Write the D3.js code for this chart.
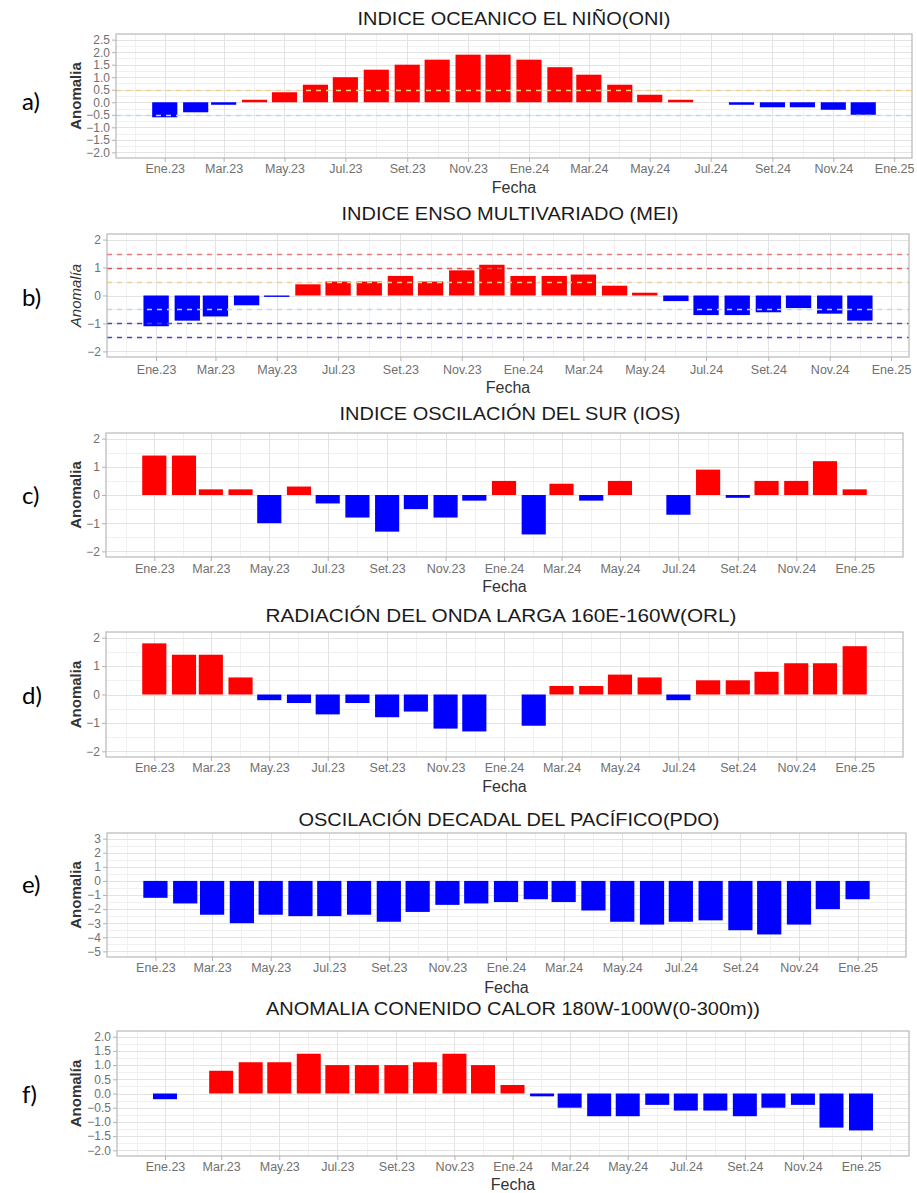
<!DOCTYPE html>
<html><head><meta charset="utf-8">
<script src="https://cdn.jsdelivr.net/npm/d3@7"></script>
<style>body{margin:0;background:#fff}svg{display:block}</style>
</head><body>
<svg id="chart" width="917" height="1193"></svg>
<script>
// ---------- data ----------
const months = ["2023-01-01","2023-02-01","2023-03-01","2023-04-01","2023-05-01","2023-06-01",
  "2023-07-01","2023-08-01","2023-09-01","2023-10-01","2023-11-01","2023-12-01",
  "2024-01-01","2024-02-01","2024-03-01","2024-04-01","2024-05-01","2024-06-01",
  "2024-07-01","2024-08-01","2024-09-01","2024-10-01","2024-11-01","2024-12-01","2025-01-01"];
const tickDates = ["2023-01-01","2023-03-01","2023-05-01","2023-07-01","2023-09-01","2023-11-01",
  "2024-01-01","2024-03-01","2024-05-01","2024-07-01","2024-09-01","2024-11-01","2025-01-01"];
const tickLabels = ["Ene.23","Mar.23","May.23","Jul.23","Set.23","Nov.23",
  "Ene.24","Mar.24","May.24","Jul.24","Set.24","Nov.24","Ene.25"];

const oni = [-0.6,-0.4,-0.1,0.1,0.4,0.7,1.0,1.3,1.5,1.7,1.9,1.9,1.7,1.4,1.1,0.7,0.3,0.1,0.0,-0.1,-0.2,-0.2,-0.3,-0.5];
const mei = [-1.1,-0.9,-0.75,-0.35,-0.05,0.4,0.5,0.5,0.7,0.5,0.9,1.1,0.7,0.7,0.75,0.35,0.1,-0.2,-0.7,-0.7,-0.6,-0.45,-0.65,-0.9];
const ios = [1.4,1.4,0.2,0.2,-1.0,0.3,-0.3,-0.8,-1.3,-0.5,-0.8,-0.2,0.5,-1.4,0.4,-0.2,0.5,0.0,-0.7,0.9,-0.1,0.5,0.5,1.2,0.2];
const orl = [1.8,1.4,1.4,0.6,-0.2,-0.3,-0.7,-0.3,-0.8,-0.6,-1.2,-1.3,0.0,-1.1,0.3,0.3,0.7,0.6,-0.2,0.5,0.5,0.8,1.1,1.1,1.7];
const pdo = [-1.2,-1.6,-2.4,-3.0,-2.4,-2.5,-2.5,-2.4,-2.9,-2.2,-1.7,-1.6,-1.5,-1.3,-1.5,-2.1,-2.9,-3.1,-2.9,-2.8,-3.5,-3.8,-3.1,-2.0,-1.3];
const ohc = [-0.2,0.0,0.8,1.1,1.1,1.4,1.0,1.0,1.0,1.1,1.4,1.0,0.3,-0.1,-0.5,-0.8,-0.8,-0.4,-0.6,-0.6,-0.8,-0.5,-0.4,-1.2,-1.3];

const oniThresholds = [0.5,-0.5];
const meiThresholds = [1.5,1.0,0.5,-0.5,-1.0,-1.5];

const ticksHalf = [-2.0,-1.5,-1.0,-0.5,0.0,0.5,1.0,1.5,2.0];
const ticksHalfA = [-2.0,-1.5,-1.0,-0.5,0.0,0.5,1.0,1.5,2.0,2.5];
const ticksUnit = [-2,-1,0,1,2];
const ticksPdo = [-5,-4,-3,-2,-1,0,1,2,3];

// ---------- layout ----------
const panels = [
  {letter:"a)", title:"INDICE OCEANICO EL NIÑO(ONI)", values:oni, n:24, ylab:"Anomalia", ylabStyle:"bold",
   l:116, r:912, t:34, b:158, ylim:[-2.0,2.5], yticks:ticksHalfA, fmt:".1f", minor:0.25,
   titleY:18, titleW:313, titleX:514, tickY:169, fechaY:187, letterY:100, lines:oniThresholds},
  {letter:"b)", title:"INDICE ENSO MULTIVARIADO (MEI)", values:mei, n:24, ylab:"Anomalía", ylabStyle:"italic",
   l:107, r:909, t:234, b:357, ylim:[-2,2], yticks:ticksUnit, fmt:"d", minor:0.5,
   titleY:213, titleW:337, titleX:510, tickY:370, fechaY:387, letterY:296, lines:meiThresholds},
  {letter:"c)", title:"INDICE OSCILACIÓN DEL SUR (IOS)", values:ios, n:25, ylab:"Anomalia", ylabStyle:"bold",
   l:106, r:903, t:433, b:557, ylim:[-2,2], yticks:ticksUnit, fmt:"d", minor:0.5,
   titleY:413, titleW:341, titleX:510, tickY:569, fechaY:586, letterY:494, lines:[]},
  {letter:"d)", title:"RADIACIÓN DEL ONDA LARGA 160E-160W(ORL)", values:orl, n:25, ylab:"Anomalia", ylabStyle:"bold",
   l:106, r:903, t:632, b:757, ylim:[-2,2], yticks:ticksUnit, fmt:"d", minor:0.5,
   titleY:615, titleW:471, titleX:501, tickY:768, fechaY:786, letterY:694, lines:[]},
  {letter:"e)", title:"OSCILACIÓN DECADAL DEL PACÍFICO(PDO)", values:pdo, n:25, ylab:"Anomalia", ylabStyle:"bold",
   l:107, r:906, t:833, b:957, ylim:[-5,3], yticks:ticksPdo, fmt:"d", minor:0.5,
   titleY:819, titleW:421, titleX:509, tickY:968, fechaY:987, letterY:883, lines:[]},
  {letter:"f)", title:"ANOMALIA CONENIDO CALOR 180W-100W(0-300m))", values:ohc, n:25, ylab:"Anomalía", ylabStyle:"bold",
   l:117, r:909, t:1031, b:1156, ylim:[-2,2], yticks:ticksHalf, fmt:".1f", minor:0.25,
   titleY:1008, titleW:494, titleX:513, tickY:1167, fechaY:1184, letterY:1093, lines:[]}
];

const parse = d3.utcParse("%Y-%m-%d");
const DAY = 86400000;
const barDays = 25.2;
const svg = d3.select("#chart");
svg.append("rect").attr("width",917).attr("height",1193).attr("fill","#fff");

function lineColor(v){
  if (v >= 1.5) return "#ee7a7a";
  if (v >= 1) return "#e35252";
  if (v > 0) return "#f2d08e";
  if (v > -1) return "#b3dbf3";
  return "#4646c8";
}
const px = v => Math.round(v) + 0.5;

panels.forEach(p => {
  const g = svg.append("g");
  const dates = months.slice(0, p.n).map(parse);
  const data = dates.map((d,i) => ({date:d, v:p.values[i]}));
  const first = dates[0].getTime(), last = dates[dates.length-1].getTime();
  const span = (last - first) + barDays*DAY;
  const pad = barDays*DAY/2 + 0.05*span;
  const x = d3.scaleUtc().domain([new Date(first - pad), new Date(last + pad)]).range([p.l, p.r]);
  const yr = p.ylim[1] - p.ylim[0];
  const y = d3.scaleLinear().domain([p.ylim[0]-0.05*yr, p.ylim[1]+0.05*yr]).range([p.b, p.t]);

  // minor grid y
  const ymin = [];
  for (let k = Math.ceil(y.domain()[0]/p.minor); k*p.minor <= y.domain()[1]; k++) {
    const v = +(k*p.minor).toFixed(4);
    if (!p.yticks.some(t => Math.abs(t - v) < 1e-6)) ymin.push(v);
  }
  g.selectAll(".ymin").data(ymin).enter().append("line")
    .attr("x1",p.l).attr("x2",p.r).attr("y1",d=>px(y(d))).attr("y2",d=>px(y(d)))
    .attr("stroke","#f1f1f1").attr("stroke-width",1);
  // minor grid x (midpoints between major ticks)
  const td = tickDates.map(parse);
  const xmin = [];
  for (let i = -1; i < td.length; i++) {
    let a, b;
    if (i === -1) { a = td[0].getTime() - (td[1]-td[0]); b = td[0].getTime(); }
    else if (i === td.length-1) { a = td[i].getTime(); b = a + (td[i]-td[i-1]); }
    else { a = td[i].getTime(); b = td[i+1].getTime(); }
    const m = new Date((a+b)/2);
    if (m >= x.domain()[0] && m <= x.domain()[1]) xmin.push(m);
  }
  g.selectAll(".xmin").data(xmin).enter().append("line")
    .attr("x1",d=>px(x(d))).attr("x2",d=>px(x(d))).attr("y1",p.t).attr("y2",p.b)
    .attr("stroke","#f1f1f1").attr("stroke-width",1);
  // major grid
  const tdIn = td.filter(d => d >= x.domain()[0] && d <= x.domain()[1]);
  g.selectAll(".xmaj").data(tdIn).enter().append("line")
    .attr("x1",d=>px(x(d))).attr("x2",d=>px(x(d))).attr("y1",p.t).attr("y2",p.b)
    .attr("stroke","#e3e3e3").attr("stroke-width",1);
  g.selectAll(".ymaj").data(p.yticks).enter().append("line")
    .attr("x1",p.l).attr("x2",p.r).attr("y1",d=>px(y(d))).attr("y2",d=>px(y(d)))
    .attr("stroke","#e3e3e3").attr("stroke-width",1);

  // bars
  const bw = x(new Date(first + barDays*DAY)) - x(new Date(first));
  g.selectAll(".bar").data(data.filter(d => d.v !== 0)).enter().append("rect")
    .attr("x", d => x(d.date) - bw/2).attr("width", bw)
    .attr("y", d => Math.min(y(d.v), y(0)))
    .attr("height", d => Math.abs(y(d.v) - y(0)))
    .attr("fill", d => d.v > 0 ? "#ff0000" : "#0000ff");

  // threshold lines
  g.selectAll(".thr").data(p.lines).enter().append("line")
    .attr("x1",p.l).attr("x2",p.r).attr("y1",d=>px(y(d))).attr("y2",d=>px(y(d)))
    .attr("stroke", d => lineColor(d)).attr("stroke-width",1.3)
    .attr("stroke-dasharray","5,5");

  // border
  g.append("rect").attr("x",p.l).attr("y",p.t).attr("width",p.r-p.l).attr("height",p.b-p.t)
    .attr("fill","none").attr("stroke","#b8b8b8").attr("stroke-width",1.2);

  // y axis
  const yAxis = d3.axisLeft(y).tickValues(p.yticks).tickSize(4).tickPadding(2)
    .tickFormat(d3.format(p.fmt));
  const ya = g.append("g").attr("transform",`translate(${p.l},0)`).call(yAxis);
  ya.select(".domain").remove();
  ya.selectAll("line").attr("stroke","#b3b3b3");
  ya.selectAll("text").attr("fill","#707070").style("font-family","Liberation Sans, Arial, sans-serif")
    .style("font-size","12px");

  // x axis
  const labelMap = new Map(tickDates.map((d,i)=>[d, tickLabels[i]]));
  const xAxis = d3.axisBottom(x).tickValues(tdIn).tickSize(4).tickPadding(3)
    .tickFormat(d => labelMap.get(d3.utcFormat("%Y-%m-%d")(d)));
  const xa = g.append("g").attr("transform",`translate(0,${p.b})`).call(xAxis);
  xa.select(".domain").remove();
  xa.selectAll("line").attr("stroke","#b3b3b3");
  xa.selectAll("text").attr("fill","#707070").attr("y",null).attr("dy",null)
    .attr("transform",`translate(0,${p.tickY - p.b})`).attr("dominant-baseline","central")
    .style("font-family","Liberation Sans, Arial, sans-serif").style("font-size","12.5px");

  // titles
  g.append("text").attr("x",p.titleX).attr("y",p.titleY).attr("text-anchor","middle")
    .attr("dominant-baseline","central").attr("textLength",p.titleW).attr("lengthAdjust","spacingAndGlyphs")
    .style("font-family","Liberation Sans, Arial, sans-serif").style("font-size","19px")
    .attr("fill","#1a1a1a").text(p.title);
  g.append("text").attr("x",(p.l+p.r)/2).attr("y",p.fechaY).attr("text-anchor","middle")
    .attr("dominant-baseline","central")
    .style("font-family","Liberation Sans, Arial, sans-serif").style("font-size","16px")
    .attr("fill","#333").text("Fecha");
  g.append("text").attr("transform",`translate(75,${(p.t+p.b)/2}) rotate(-90)`).attr("text-anchor","middle")
    .attr("dominant-baseline","central")
    .style("font-family","Liberation Sans, Arial, sans-serif").style("font-size","15px")
    .style("font-weight", p.ylabStyle === "bold" ? "bold" : "normal")
    .style("font-style", p.ylabStyle === "italic" ? "italic" : "normal")
    .attr("fill","#333").text(p.ylab);
  g.append("text").attr("x",22).attr("y",p.letterY).attr("dominant-baseline","central")
    .style("font-family","Lato, Open Sans, sans-serif").style("font-size","24px")
    .attr("fill","#000").text(p.letter);
});
</script>
</body></html>
